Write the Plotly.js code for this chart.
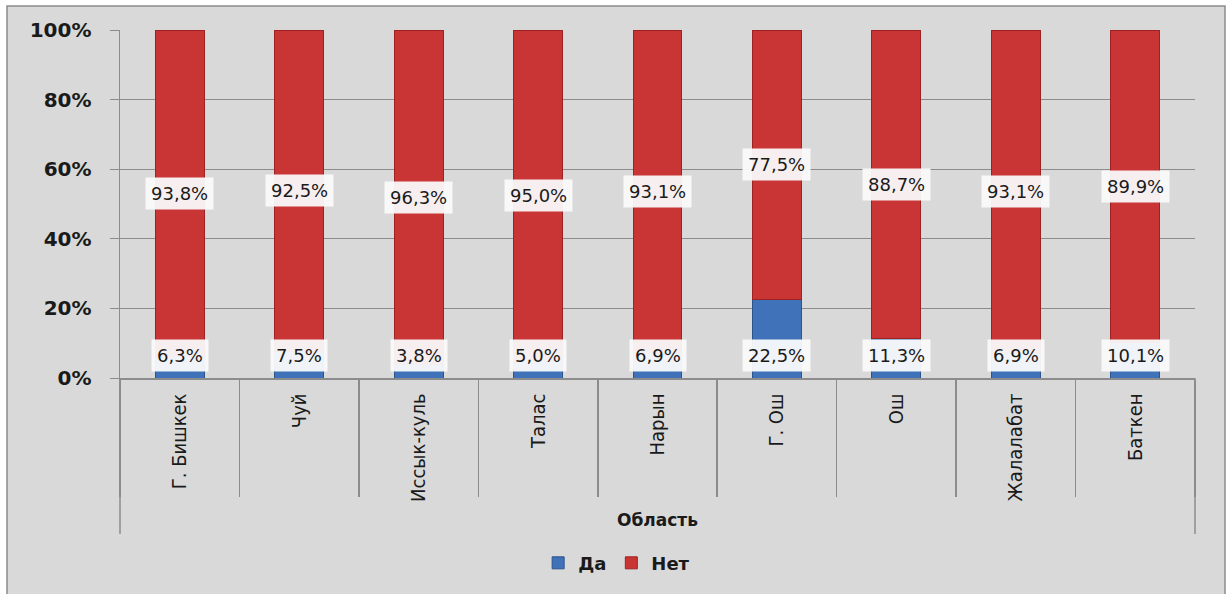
<!DOCTYPE html>
<html>
<head>
<meta charset="utf-8">
<script src="https://cdn.plot.ly/plotly-3.0.1.min.js"></script>
<style>
html,body{margin:0;padding:0;background:#fff;}
#chart{width:1227px;height:594px;}
</style>
</head>
<body>
<div id="chart"></div>
<script>
const categories = ["Г. Бишкек", "Чуй", "Иссык-куль", "Талас", "Нарын", "Г. Ош", "Ош", "Жалалабат", "Баткен"];
const da  = [6.3, 7.5, 3.8, 5.0, 6.9, 22.5, 11.3, 6.9, 10.1];
const net = [93.8, 92.5, 96.3, 95.0, 93.1, 77.5, 88.7, 93.1, 89.9];
const yTickVals = [0, 0.2, 0.4, 0.6, 0.8, 1.0];
const yTickText = ["0%", "20%", "40%", "60%", "80%", "100%"];
const seriesNames = ["Да", "Нет"];
const axisTitle = "Область";

// normalise to 100% stacked
const totals = da.map((v, i) => v + net[i]);
const daFrac = da.map((v, i) => v / totals[i]);
const netFrac = net.map((v, i) => v / totals[i]);

const fmt = v => v.toFixed(1).replace('.', ',') + '%';

const traces = [
  {
    type: 'bar', name: seriesNames[0], x: categories, y: daFrac, width: 0.41,
    marker: {color: '#3f72b8', line: {color: '#2b548c', width: 1}},
    hoverinfo: 'skip'
  },
  {
    type: 'bar', name: seriesNames[1], x: categories, y: netFrac, width: 0.41,
    marker: {color: '#c93434', line: {color: '#9e2222', width: 1}},
    hoverinfo: 'skip'
  }
];

const annotations = [];
const labelFont = {family: 'DejaVu Sans, Verdana, sans-serif', size: 18, color: '#1a1a1a'};
categories.forEach((c, i) => {
  annotations.push({
    x: c, xref: 'x', y: 0.065, yref: 'y', text: fmt(da[i]), showarrow: false,
    bgcolor: 'rgba(250,250,250,0.95)', borderpad: 5, font: labelFont
  });
  annotations.push({
    x: c, xref: 'x', y: daFrac[i] + netFrac[i] / 2, yref: 'y', text: fmt(net[i]), showarrow: false,
    bgcolor: 'rgba(250,250,250,0.95)', borderpad: 5, font: labelFont
  });
});
annotations.push({
  x: 0.5, xref: 'paper', y: -0.408, yref: 'paper', text: '<b>' + axisTitle + '</b>',
  showarrow: false, font: {family: 'DejaVu Sans, sans-serif', size: 17, color: '#1a1a1a'},
  xanchor: 'center', yanchor: 'middle'
});

const shapes = [
  {type: 'rect', xref: 'paper', yref: 'paper', x0: -0.1051, x1: 1.0279, y0: -0.66, y1: 1.069,
   fillcolor: '#d9d9d9', line: {color: '#8c8c8c', width: 1.5}, layer: 'below'},
  {type: 'line', xref: 'paper', yref: 'paper', x0: 0, x1: 0, y0: 0, y1: -0.448,
   line: {color: '#8c8c8c', width: 1.5}},
  {type: 'line', xref: 'paper', yref: 'paper', x0: 1, x1: 1, y0: 0, y1: -0.448,
   line: {color: '#8c8c8c', width: 1.5}}
];

const layout = {
  width: 1227, height: 594,
  margin: {l: 120, r: 32, t: 30, b: 216},
  paper_bgcolor: '#ffffff',
  plot_bgcolor: 'rgba(0,0,0,0)',
  barmode: 'stack',
  showlegend: true,
  legend: {
    orientation: 'h', x: 0.462, xanchor: 'center', y: -0.532, yanchor: 'middle',
    font: {family: 'DejaVu Sans, sans-serif', size: 18, color: '#1a1a1a', weight: 'bold'},
    bgcolor: 'rgba(0,0,0,0)', itemwidth: 30, traceorder: 'normal', tracegroupgap: 0
  },
  xaxis: {
    type: 'category', tickangle: -90, showgrid: false, zeroline: false,
    showline: true, linecolor: '#8c8c8c', linewidth: 1.5,
    ticks: 'outside', tickson: 'boundaries', ticklen: 117, tickcolor: '#8c8c8c', tickwidth: 1.5,
    tickfont: {family: 'DejaVu Sans Condensed, Liberation Sans Narrow, sans-serif', size: 20, color: '#1a1a1a'},
    ticklabelstandoff: 6,
    range: [-0.5, 8.5], fixedrange: true
  },
  yaxis: {
    range: [0, 1], tickvals: yTickVals, ticktext: yTickText,
    showgrid: true, gridcolor: '#8c8c8c', gridwidth: 1,
    zeroline: false, showline: true, linecolor: '#8c8c8c', linewidth: 1.5,
    ticks: 'outside', ticklen: 9, tickcolor: '#8c8c8c',
    tickfont: {family: 'DejaVu Sans, Verdana, sans-serif', size: 20, color: '#1a1a1a', weight: 'bold'},
    ticklabelstandoff: 14,
    fixedrange: true
  },
  annotations: annotations,
  shapes: shapes
};

Plotly.newPlot('chart', traces, layout, {displayModeBar: false, staticPlot: true});
</script>
</body>
</html>
